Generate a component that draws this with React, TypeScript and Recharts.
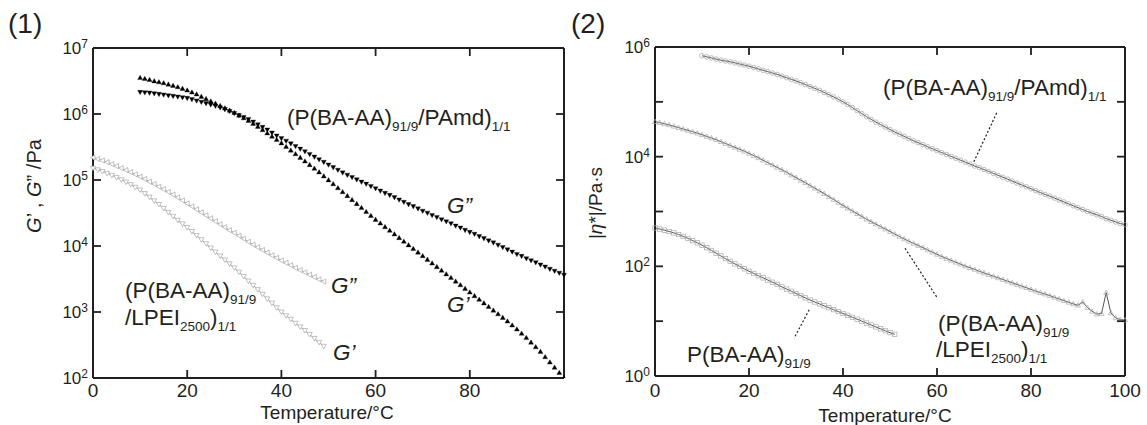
import React from 'react';
import { LineChart, Line, XAxis, YAxis, ReferenceLine } from 'recharts';

const INK = '#231f20';
const FONT = '"Liberation Sans", Arial, Helvetica, sans-serif';

// ---------- categories ----------
const temperatures = [
  0, 1, 2, 3, 4, 5, 6, 7, 8, 9, 10, 11, 12, 13, 14, 15, 16, 17, 18, 19, 20,
  21, 22, 23, 24, 25, 26, 27, 28, 29, 30, 31, 32, 33, 34, 35, 36, 37, 38, 39, 40,
  41, 42, 43, 44, 45, 46, 47, 48, 49, 50, 51, 52, 53, 54, 55, 56, 57, 58, 59, 60,
  61, 62, 63, 64, 65, 66, 67, 68, 69, 70, 71, 72, 73, 74, 75, 76, 77, 78, 79, 80,
  81, 82, 83, 84, 85, 86, 87, 88, 89, 90, 91, 92, 93, 94, 95, 96, 97, 98, 99, 100,
];

// ---------- panel (1): log10(G/Pa) ----------
const pamdStartT = 10;
const pamdGpLog = [
  6.55, 6.535, 6.52, 6.5, 6.485, 6.47, 6.45, 6.43, 6.41, 6.385,
  6.36, 6.33, 6.3, 6.265, 6.23, 6.195, 6.16, 6.125, 6.09, 6.055,
  6.02, 5.98, 5.94, 5.9, 5.855, 5.81, 5.76, 5.71, 5.66, 5.61,
  5.56, 5.505, 5.45, 5.395, 5.34, 5.285, 5.23, 5.175, 5.12, 5.06,
  5.0, 4.94, 4.88, 4.82, 4.76, 4.7, 4.64, 4.58, 4.52, 4.46,
  4.4, 4.345, 4.29, 4.235, 4.18, 4.125, 4.07, 4.015, 3.96, 3.905,
  3.85, 3.795, 3.74, 3.685, 3.63, 3.575, 3.52, 3.465, 3.41, 3.355,
  3.3, 3.245, 3.19, 3.135, 3.08, 3.025, 2.97, 2.915, 2.86, 2.8,
  2.74, 2.675, 2.61, 2.54, 2.47, 2.4, 2.32, 2.24, 2.16, 2.08,
  2.0,
];
const pamdGppLog = [
  6.33, 6.325, 6.32, 6.31, 6.3, 6.29, 6.28, 6.27, 6.26, 6.25,
  6.24, 6.22, 6.2, 6.18, 6.16, 6.14, 6.12, 6.095, 6.07, 6.04,
  6.01, 5.98, 5.95, 5.92, 5.88, 5.84, 5.8, 5.76, 5.715, 5.67,
  5.63, 5.59, 5.55, 5.51, 5.47, 5.43, 5.39, 5.35, 5.31, 5.27,
  5.23, 5.19, 5.15, 5.11, 5.075, 5.04, 5.005, 4.97, 4.94, 4.905,
  4.87, 4.835, 4.8, 4.77, 4.735, 4.7, 4.665, 4.63, 4.6, 4.565,
  4.53, 4.5, 4.465, 4.435, 4.4, 4.37, 4.34, 4.305, 4.275, 4.24,
  4.21, 4.18, 4.145, 4.115, 4.08, 4.05, 4.015, 3.98, 3.945, 3.91,
  3.875, 3.845, 3.81, 3.78, 3.75, 3.715, 3.685, 3.65, 3.62, 3.59,
  3.56,
];
const lpeiStartT = 0;
const lpeiGppLog = [
  5.34, 5.32, 5.295, 5.27, 5.24, 5.21, 5.18, 5.15, 5.12, 5.085,
  5.05, 5.015, 4.975, 4.94, 4.9, 4.86, 4.82, 4.78, 4.735, 4.69,
  4.645, 4.6, 4.555, 4.51, 4.465, 4.42, 4.375, 4.33, 4.285, 4.24,
  4.2, 4.155, 4.11, 4.065, 4.02, 3.98, 3.94, 3.9, 3.86, 3.82,
  3.78, 3.745, 3.71, 3.67, 3.635, 3.6, 3.565, 3.53, 3.495, 3.46,
];
const lpeiGpLog = [
  5.18, 5.155, 5.13, 5.1, 5.07, 5.04, 5.005, 4.97, 4.93, 4.89,
  4.85, 4.795, 4.74, 4.685, 4.63, 4.57, 4.51, 4.45, 4.39, 4.335,
  4.28, 4.22, 4.16, 4.095, 4.035, 3.97, 3.91, 3.85, 3.79, 3.73,
  3.67, 3.605, 3.54, 3.47, 3.405, 3.34, 3.27, 3.2, 3.135, 3.065,
  3.0, 2.945, 2.89, 2.83, 2.775, 2.72, 2.66, 2.6, 2.54, 2.48,
];

// ---------- panel (2): log10(|eta*|/Pa s) ----------
const pamdEtaStartT = 10;
const pamdEtaLog = [
  5.84, 5.82, 5.8, 5.78, 5.76, 5.745, 5.73, 5.71, 5.69, 5.67,
  5.65, 5.625, 5.6, 5.575, 5.55, 5.525, 5.5, 5.47, 5.44, 5.41,
  5.38, 5.35, 5.315, 5.28, 5.245, 5.21, 5.17, 5.13, 5.09, 5.045,
  5.0, 4.95, 4.895, 4.84, 4.785, 4.73, 4.68, 4.63, 4.585, 4.54,
  4.495, 4.45, 4.41, 4.37, 4.33, 4.29, 4.255, 4.22, 4.18, 4.145,
  4.11, 4.075, 4.04, 4.005, 3.97, 3.935, 3.9, 3.865, 3.83, 3.8,
  3.765, 3.73, 3.695, 3.66, 3.625, 3.59, 3.555, 3.52, 3.485, 3.45,
  3.415, 3.38, 3.345, 3.31, 3.28, 3.245, 3.21, 3.175, 3.14, 3.105,
  3.07, 3.035, 3.0, 2.97, 2.94, 2.91, 2.87, 2.84, 2.81, 2.78,
  2.76,
];
const lpeiEtaStartT = 0;
const lpeiEtaLog = [
  4.64, 4.62, 4.6, 4.58, 4.555, 4.53, 4.505, 4.48, 4.455, 4.43,
  4.4, 4.37, 4.34, 4.31, 4.275, 4.24, 4.205, 4.17, 4.135, 4.1,
  4.06, 4.02, 3.98, 3.935, 3.89, 3.85, 3.805, 3.76, 3.715, 3.665,
  3.62, 3.57, 3.525, 3.475, 3.425, 3.375, 3.325, 3.27, 3.22, 3.165,
  3.11, 3.06, 3.01, 2.96, 2.91, 2.86, 2.815, 2.77, 2.725, 2.68,
  2.635, 2.59, 2.545, 2.5, 2.46, 2.42, 2.38, 2.34, 2.3, 2.26,
  2.22, 2.18, 2.145, 2.11, 2.075, 2.04, 2.005, 1.975, 1.945, 1.91,
  1.88, 1.85, 1.82, 1.79, 1.76, 1.73, 1.7, 1.67, 1.64, 1.61,
  1.58, 1.55, 1.52, 1.495, 1.465, 1.435, 1.405, 1.375, 1.345, 1.315,
  1.29, 1.35, 1.25, 1.18, 1.13, 1.14, 1.52, 1.15, 1.06, 1.03,
  1.02,
];
const pbaEtaStartT = 0;
const pbaEtaLog = [
  2.7, 2.68, 2.66, 2.635, 2.61, 2.58, 2.545, 2.51, 2.47, 2.43,
  2.385, 2.34, 2.29, 2.24, 2.19, 2.14, 2.09, 2.045, 2.0, 1.955,
  1.91, 1.87, 1.83, 1.79, 1.75, 1.71, 1.67, 1.625, 1.585, 1.545,
  1.505, 1.465, 1.425, 1.385, 1.35, 1.315, 1.28, 1.245, 1.21, 1.175,
  1.14, 1.105, 1.07, 1.035, 1.0, 0.965, 0.93, 0.895, 0.86, 0.825,
  0.79, 0.76,
];

// ---------- ticks ----------
const bottomTicks = [0, 20, 40, 60, 80, 100];
const topTicks = [20, 40, 60, 80];
const leftYTicks = [1e2, 1e3, 1e4, 1e5, 1e6, 1e7];
const leftInnerRightTicks = [1e3, 1e4, 1e5, 1e6];
const rightYTicks = [1e0, 1e1, 1e2, 1e3, 1e4, 1e5, 1e6];
const rightYLabeled = [1e0, 1e2, 1e4, 1e6];
const rightInnerRightTicks = [1e1, 1e2, 1e3, 1e4, 1e5];

// leader lines (annotation), in data coordinates
const pamdLeader = [{ x: 72.7, y: 6.3e4 }, { x: 67.7, y: 7.6e3 }];
const lpeiLeader = [{ x: 53.2, y: 214 }, { x: 60.1, y: 26.3 }];
const pbaLeader = [{ x: 32.8, y: 16.1 }, { x: 29.6, y: 4.9 }];

const pick = (arr: number[], start: number, t: number) => {
  const i = t - start;
  return i >= 0 && i < arr.length ? Math.pow(10, arr[i]) : null;
};

const leftRows = temperatures.map((t) => ({
  t,
  pamdGp: pick(pamdGpLog, pamdStartT, t),
  pamdGpp: pick(pamdGppLog, pamdStartT, t),
  lpeiGp: pick(lpeiGpLog, lpeiStartT, t),
  lpeiGpp: pick(lpeiGppLog, lpeiStartT, t),
}));

const rightRows = temperatures.map((t) => ({
  t,
  pamd: pick(pamdEtaLog, pamdEtaStartT, t),
  lpei: pick(lpeiEtaLog, lpeiEtaStartT, t),
  pba: pick(pbaEtaLog, pbaEtaStartT, t),
}));

// ---------- markers ----------
type Shape = 'up' | 'down' | 'left' | 'circle' | 'square';
const makeDot = (shape: Shape, fill: string, stroke: string, s: number, sw = 0.7) => (props: any) => {
  const { cx, cy, index } = props;
  const k = `d${index}`;
  if (cx == null || cy == null || !isFinite(cx) || !isFinite(cy)) return <g key={k} />;
  let d = '';
  if (shape === 'up') d = `M${cx},${cy - s}L${cx + s},${cy + s * 0.75}L${cx - s},${cy + s * 0.75}Z`;
  if (shape === 'down') d = `M${cx},${cy + s}L${cx + s},${cy - s * 0.75}L${cx - s},${cy - s * 0.75}Z`;
  if (shape === 'left') d = `M${cx - s},${cy}L${cx + s * 0.75},${cy - s}L${cx + s * 0.75},${cy + s}Z`;
  if (shape === 'circle') return <circle key={k} cx={cx} cy={cy} r={s} fill={fill} stroke={stroke} strokeWidth={sw} />;
  if (shape === 'square') return <rect key={k} x={cx - s} y={cy - s} width={2 * s} height={2 * s} fill={fill} stroke={stroke} strokeWidth={sw} />;
  return <path key={k} d={d} fill={fill} stroke={stroke} strokeWidth={sw} />;
};

// ---------- ticks ----------
const BottomTick = (props: any) => {
  const { x, y, payload, showLast, labelDy } = props;
  const v = payload.value;
  return (
    <g>
      {v > 0 && v < 100 && <line x1={x} x2={x} y1={y} y2={y - 8} stroke={INK} strokeWidth={1.8} />}
      {(v < 100 || showLast) && (
        <text x={x} y={y + labelDy} textAnchor="middle" fontSize={19} fill={INK} fontFamily={FONT}>
          {v}
        </text>
      )}
    </g>
  );
};

const TopTick = (props: any) => {
  const { x, y } = props;
  return <line x1={x} x2={x} y1={y} y2={y + 8} stroke={INK} strokeWidth={1.8} />;
};

const LeftLogTick = (props: any) => {
  const { x, y, payload, labeled } = props;
  const v = payload.value;
  const exp = Math.round(Math.log10(v));
  return (
    <g>
      <line x1={x} x2={x + 8} y1={y} y2={y} stroke={INK} strokeWidth={1.8} />
      {labeled.includes(v) && (
        <text x={x - 5} y={y + 6} textAnchor="end" fontSize={17} fill={INK} fontFamily={FONT}>
          10
          <tspan dy={-6} fontSize={12}>
            {exp}
          </tspan>
        </text>
      )}
    </g>
  );
};

const RightInnerTick = (props: any) => {
  const { x, y } = props;
  return <line x1={x} x2={x - 8} y1={y} y2={y} stroke={INK} strokeWidth={1.8} />;
};

const axisLine = { stroke: INK, strokeWidth: 2 };

const Sub = ({ children }: { children: React.ReactNode }) => (
  <tspan fontSize={13.5} dy={6}>
    {children}
  </tspan>
);
const Up = ({ children }: { children: React.ReactNode }) => <tspan dy={-6}>{children}</tspan>;

const ANN = 22.5;

export default function App() {
  return (
    <div style={{ position: 'absolute', left: 0, top: 0, width: 1147, height: 425, background: '#fff' }}>
      {/* Panel 1 */}
      <div style={{ position: 'absolute', left: 0, top: 0 }}>
        <LineChart width={580} height={425} data={leftRows} margin={{ top: 47, right: 15, bottom: 17, left: 33 }}>
          <XAxis
            dataKey="t"
            type="number"
            domain={[0, 100]}
            ticks={bottomTicks}
            interval={0}
            height={30}
            tickSize={0}
            tickMargin={0}
            tickLine={false}
            axisLine={axisLine}
            tick={(p: any) => <BottomTick {...p} showLast={false} labelDy={19} />}
          />
          <XAxis
            xAxisId="top"
            orientation="top"
            type="number"
            domain={[0, 100]}
            ticks={topTicks}
            interval={0}
            height={1}
            tickSize={0}
            tickMargin={0}
            tickLine={false}
            axisLine={axisLine}
            tick={(p: any) => <TopTick {...p} />}
          />
          <YAxis
            type="number"
            scale="log"
            domain={[1e2, 1e7]}
            allowDataOverflow
            ticks={leftYTicks}
            interval={0}
            width={60}
            tickSize={0}
            tickMargin={0}
            tickLine={false}
            axisLine={axisLine}
            tick={(p: any) => <LeftLogTick {...p} labeled={leftYTicks} />}
          />
          <YAxis
            yAxisId="r"
            orientation="right"
            type="number"
            scale="log"
            domain={[1e2, 1e7]}
            allowDataOverflow
            ticks={leftInnerRightTicks}
            interval={0}
            width={1}
            tickSize={0}
            tickMargin={0}
            tickLine={false}
            axisLine={axisLine}
            tick={(p: any) => <RightInnerTick {...p} />}
          />
          <Line
            dataKey="lpeiGpp"
            stroke="#8a8a8a"
            strokeWidth={0.8}
            dot={makeDot('left', '#fff', '#a8a8a8', 2.6)}
            activeDot={false}
            isAnimationActive={false}
          />
          <Line
            dataKey="lpeiGp"
            stroke="#8a8a8a"
            strokeWidth={0.8}
            dot={makeDot('down', '#fff', '#a8a8a8', 2.6)}
            activeDot={false}
            isAnimationActive={false}
          />
          <Line
            dataKey="pamdGpp"
            stroke="none"
            dot={makeDot('down', '#000', '#000', 2.5, 0.3)}
            activeDot={false}
            isAnimationActive={false}
          />
          <Line
            dataKey="pamdGp"
            stroke="none"
            dot={makeDot('up', '#000', '#000', 2.5, 0.3)}
            activeDot={false}
            isAnimationActive={false}
          />
        </LineChart>
      </div>

      {/* Panel 2 */}
      <div style={{ position: 'absolute', left: 580, top: 0 }}>
        <LineChart width={567} height={425} data={rightRows} margin={{ top: 46, right: 21, bottom: 19, left: 15 }}>
          <XAxis
            dataKey="t"
            type="number"
            domain={[0, 100]}
            ticks={bottomTicks}
            interval={0}
            height={30}
            tickSize={0}
            tickMargin={0}
            tickLine={false}
            axisLine={axisLine}
            tick={(p: any) => <BottomTick {...p} showLast={true} labelDy={21} />}
          />
          <XAxis
            xAxisId="top"
            orientation="top"
            type="number"
            domain={[0, 100]}
            ticks={topTicks}
            interval={0}
            height={1}
            tickSize={0}
            tickMargin={0}
            tickLine={false}
            axisLine={axisLine}
            tick={(p: any) => <TopTick {...p} />}
          />
          <YAxis
            type="number"
            scale="log"
            domain={[1e0, 1e6]}
            allowDataOverflow
            ticks={rightYTicks}
            interval={0}
            width={60}
            tickSize={0}
            tickMargin={0}
            tickLine={false}
            axisLine={axisLine}
            tick={(p: any) => <LeftLogTick {...p} labeled={rightYLabeled} />}
          />
          <YAxis
            yAxisId="r"
            orientation="right"
            type="number"
            scale="log"
            domain={[1e0, 1e6]}
            allowDataOverflow
            ticks={rightInnerRightTicks}
            interval={0}
            width={1}
            tickSize={0}
            tickMargin={0}
            tickLine={false}
            axisLine={axisLine}
            tick={(p: any) => <RightInnerTick {...p} />}
          />
          <ReferenceLine segment={pamdLeader} stroke={INK} strokeWidth={1.2} strokeDasharray="2 2" />
          <ReferenceLine segment={lpeiLeader} stroke={INK} strokeWidth={1.2} strokeDasharray="2 2" />
          <ReferenceLine segment={pbaLeader} stroke={INK} strokeWidth={1.2} strokeDasharray="2 2" />
          <Line
            dataKey="pba"
            stroke="#555"
            strokeWidth={1}
            dot={makeDot('square', 'none', '#a8a8a8', 2.2)}
            activeDot={false}
            isAnimationActive={false}
          />
          <Line
            dataKey="lpei"
            stroke="#555"
            strokeWidth={1}
            dot={makeDot('up', 'none', '#a8a8a8', 2.5)}
            activeDot={false}
            isAnimationActive={false}
          />
          <Line
            dataKey="pamd"
            stroke="#555"
            strokeWidth={1}
            dot={makeDot('circle', 'none', '#a0a0a0', 2.3)}
            activeDot={false}
            isAnimationActive={false}
          />
        </LineChart>
      </div>

      {/* Text overlay */}
      <svg
        width={1147}
        height={425}
        style={{ position: 'absolute', left: 0, top: 0, pointerEvents: 'none' }}
        fontFamily={FONT}
        fill={INK}
      >
        <text x={8} y={33} fontSize={28}>(1)</text>
        <text x={571} y={33} fontSize={28}>(2)</text>

        <text transform="translate(41,186) rotate(-90)" textAnchor="middle" fontSize={20}>
          <tspan fontStyle="italic">G</tspan>’ , <tspan fontStyle="italic">G</tspan>” /Pa
        </text>
        <text transform="translate(602,203) rotate(-90)" textAnchor="middle" fontSize={19}>
          |<tspan fontStyle="italic">η</tspan>*|/Pa·s
        </text>

        <text x={327} y={419} textAnchor="middle" fontSize={19}>Temperature/°C</text>
        <text x={885} y={422} textAnchor="middle" fontSize={19}>Temperature/°C</text>

        {/* panel 1 annotations */}
        <text x={287} y={125} fontSize={ANN}>
          (P(BA-AA)<Sub>91/9</Sub><Up>/PAmd)</Up><Sub>1/1</Sub>
        </text>
        <text x={447} y={213} fontSize={ANN} fontStyle="italic">G”</text>
        <text x={447} y={312} fontSize={ANN} fontStyle="italic">G’</text>
        <text x={331} y={293} fontSize={ANN} fontStyle="italic">G”</text>
        <text x={333} y={360} fontSize={ANN} fontStyle="italic">G’</text>
        <text x={125} y={298} fontSize={ANN}>
          (P(BA-AA)<Sub>91/9</Sub>
        </text>
        <text x={125} y={325} fontSize={ANN}>
          /LPEI<Sub>2500</Sub><Up>)</Up><Sub>1/1</Sub>
        </text>

        {/* panel 2 annotations */}
        <text x={883} y={95} fontSize={ANN}>
          (P(BA-AA)<Sub>91/9</Sub><Up>/PAmd)</Up><Sub>1/1</Sub>
        </text>
        <text x={938} y={331} fontSize={ANN}>
          (P(BA-AA)<Sub>91/9</Sub>
        </text>
        <text x={936} y={357} fontSize={ANN}>
          /LPEI<Sub>2500</Sub><Up>)</Up><Sub>1/1</Sub>
        </text>
        <text x={687} y={362} fontSize={ANN}>
          P(BA-AA)<Sub>91/9</Sub>
        </text>
      </svg>
    </div>
  );
}
